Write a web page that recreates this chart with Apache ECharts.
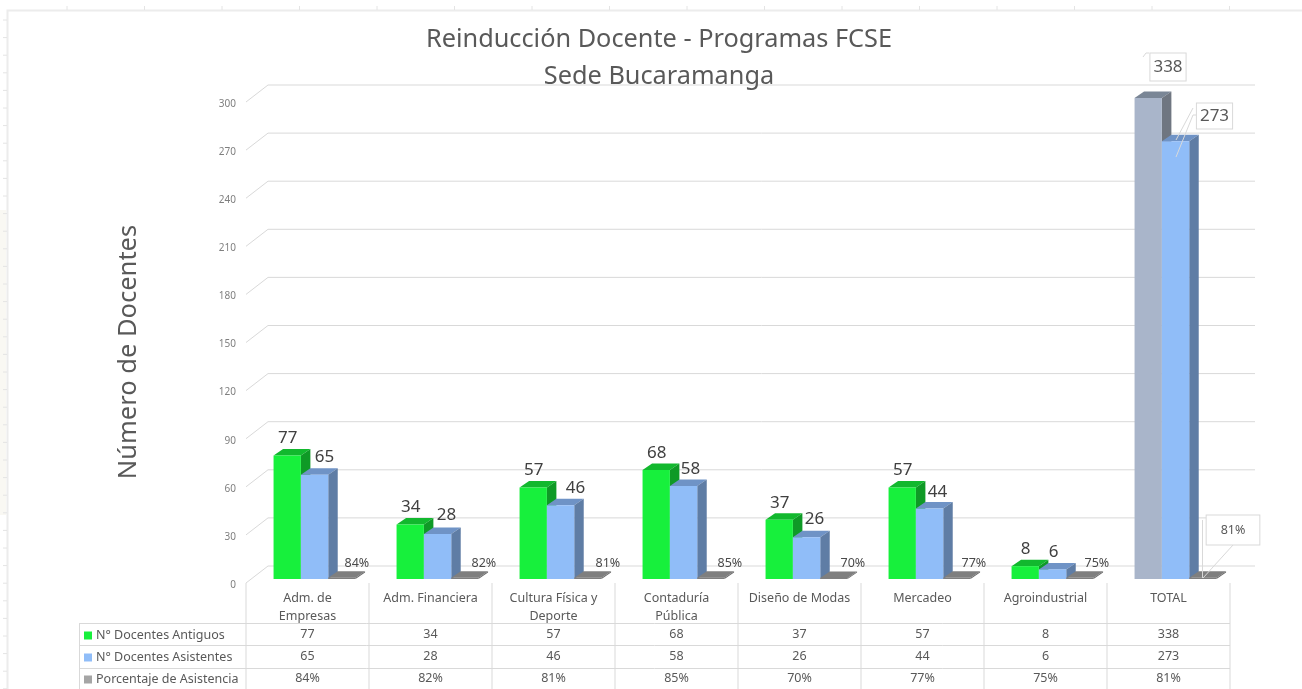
<!DOCTYPE html>
<html>
<head>
<meta charset="utf-8">
<title>Reinducción Docente</title>
<script src="https://cdn.jsdelivr.net/npm/echarts@6/dist/echarts.min.js"></script>
<style>
    html, body { margin: 0; padding: 0; background: #fff; }
    #chart { width: 1302px; height: 689px; }
</style>
</head>
<body>
<div id="chart"></div>
<script>
    // datos de la tabla
    var categories = ['Adm. de\nEmpresas', 'Adm. Financiera', 'Cultura Física y\nDeporte', 'Contaduría\nPública', 'Diseño de Modas', 'Mercadeo', 'Agroindustrial', 'TOTAL'];
    var antiguos = [77, 34, 57, 68, 37, 57, 8, 338];
    var asistentes = [65, 28, 46, 58, 26, 44, 6, 273];
    var porcentaje = [84, 82, 81, 85, 70, 77, 75, 81];
    var yTicks = [0, 30, 60, 90, 120, 150, 180, 210, 240, 270, 300];
    var seriesNames = ['N° Docentes Antiguos', 'N° Docentes Asistentes', 'Porcentaje de Asistencia'];

    // ajuste manual de las etiquetas (como quedaron movidas a mano en el original)
    var blueLabelDx = [10, 9, 15, 7, 8, 8, 1];
    var blueLabelDy = [-18, -19, -17, -17, -18, -16, -17];
    var pctLabelDx = [15, 19, 20, 19, 19, 17, 17];

    var FONT = '"Noto Sans", sans-serif';
    var AXIS_MAX = 300;
    var LAST = categories.length - 1;

    var GREEN = { front: '#17F03C', top: '#12B82E', side: '#0F9A26' };
    var BLUE = { front: '#90BDF8', top: '#6F93C6', side: '#5F7DA5' };
    var SLATE = { front: '#A9B5CA', top: '#7A8696', side: '#6F7681' };
    var GREY = { front: '#7F7F7F', top: '#7F7F7F', side: '#6B6B6B' };

    function poly(points, fill) {
        return { type: 'polygon', shape: { points: points }, style: { fill: fill } };
    }
    function line(x1, y1, x2, y2, color) {
        return { type: 'line', shape: { x1: x1, y1: y1, x2: x2, y2: y2 }, style: { stroke: color || '#D9D9D9', lineWidth: 1 } };
    }
    function label(text, x, y, size, extra) {
        var style = { text: text, x: x, y: y, fill: '#404040', font: size + 'px ' + FONT, align: 'center', verticalAlign: 'middle' };
        for (var k in extra) style[k] = extra[k];
        return { type: 'text', style: style };
    }

    // barra 3D: frente, tapa y lado
    function bar3d(slot, colorsOf, labelOf) {
        return function (params, api) {
            var i = api.value(0);
            var value = api.value(1);
            var base = api.coord([i, 0]);
            var top = api.coord([i, Math.min(value, AXIS_MAX)]);
            var band = api.size([1, 0])[0];
            var w = band / 4.5;
            var x0 = base[0] - band / 2 + band * 0.22 + slot * w + 0.5;
            var x1 = x0 + w;
            var yb = base[1] - 6;
            var yt = top[1] - 6;
            var dx = 9.5, dy = 6.5;
            var c = colorsOf(i);
            var children = [
                poly([[x0, yt], [x0 + dx, yt - dy], [x1 + dx, yt - dy], [x1, yt]], c.top),
                poly([[x1, yt], [x1 + dx, yt - dy], [x1 + dx, yb - dy], [x1, yb]], c.side),
                { type: 'rect', shape: { x: x0, y: yt, width: w, height: yb - yt }, style: { fill: c.front } }
            ];
            return { type: 'group', children: children.concat(labelOf(i, value, x0, x1, yt)) };
        };
    }

    function boxStyle(padding) {
        return { backgroundColor: '#fff', borderColor: '#D9D9D9', borderWidth: 1, padding: padding, fill: '#595959' };
    }

    // pared del fondo con las lineas de la escala
    function renderWall(params, api) {
        var p = api.coord([0, api.value(0)]);
        var left = p[0] - api.size([1, 0])[0] / 2;
        var right = left + api.size([1, 0])[0] * categories.length;
        return {
            type: 'group',
            children: [line(left, p[1] - 2, left + 22, p[1] - 19), line(left + 22, p[1] - 19, right + 25, p[1] - 19)]
        };
    }

    // tabla de datos debajo del grafico
    function renderTable(params, api) {
        var i = api.value(0);
        var band = api.size([1, 0])[0];
        var cx = api.coord([i, 0])[0];
        var left = cx - band / 2;
        var children = [
            line(left, 583, left, 689),
            label(String(antiguos[i]), cx, 634.5, 12.5, { fill: '#595959' }),
            label(String(asistentes[i]), cx, 656, 12.5, { fill: '#595959' }),
            label(porcentaje[i] + '%', cx, 678.5, 12.5, { fill: '#595959' })
        ];
        if (i === LAST) {
            children.push(line(left + band, 583, left + band, 689));
        }
        if (i === 0) {
            var right = left + band * categories.length;
            children.push(line(79, 623.5, right, 623.5), line(79, 645.5, right, 645.5), line(79, 668.5, right, 668.5), line(79.5, 623, 79.5, 689));
        }
        return { type: 'group', children: children };
    }

    function toData(values) {
        return values.map(function (v, i) { return [i, v]; });
    }

    // marco y marcas de la hoja de calculo
    var sheet = [
        { type: 'rect', shape: { x: 0, y: 210, width: 6, height: 305 }, style: { fill: '#F9F8F3' } },
        { type: 'polyline', shape: { points: [[7.5, 689], [7.5, 10.5], [1302, 10.5]] }, style: { stroke: '#ECECEC', lineWidth: 2, fill: 'none' } }
    ];
    for (var tx = 67; tx < 1302; tx += 77.5) {
        sheet.push({ type: 'line', shape: { x1: tx, y1: 6, x2: tx, y2: 10 }, style: { stroke: '#E4E4E4' } });
    }
    for (var ty = 20; ty < 689; ty += 17.6) {
        sheet.push({ type: 'line', shape: { x1: 3, y1: ty, x2: 7, y2: ty }, style: { stroke: '#E4E4E4' } });
    }

    var myChart = echarts.init(document.getElementById('chart'), null, { renderer: 'canvas' });
    myChart.setOption({
        animation: false,
        backgroundColor: '#fff',
        textStyle: { fontFamily: FONT },
        title: {
            text: 'Reinducción Docente - Programas FCSE\nSede Bucaramanga',
            left: 654,
            top: 16,
            textAlign: 'center',
            textStyle: { fontFamily: FONT, fontSize: 25.3, fontWeight: 'normal', color: '#595959', lineHeight: 37 }
        },
        legend: {
            orient: 'vertical',
            left: 84,
            top: 627,
            itemWidth: 8,
            itemHeight: 8,
            itemGap: 5,
            selectedMode: false,
            padding: 0,
            textStyle: { fontFamily: FONT, fontSize: 12.5, color: '#595959', padding: [0, 0, 0, -1], lineHeight: 17 },
            data: [
                { name: seriesNames[0], icon: 'rect', itemStyle: { color: GREEN.front } },
                { name: seriesNames[1], icon: 'rect', itemStyle: { color: BLUE.front } },
                { name: seriesNames[2], icon: 'rect', itemStyle: { color: '#A5A5A5' } }
            ]
        },
        grid: { left: 246, top: 104, width: 984, height: 481 },
        xAxis: {
            type: 'category',
            data: categories,
            axisLine: { show: false },
            axisTick: { show: false },
            axisLabel: { interval: 0, margin: 4, fontFamily: FONT, fontSize: 12.5, lineHeight: 18.5, color: '#595959' }
        },
        yAxis: {
            type: 'value',
            min: 0,
            max: AXIS_MAX,
            interval: 30,
            name: 'Número de Docentes',
            nameLocation: 'middle',
            nameRotate: 90,
            nameGap: 104,
            nameTextStyle: { fontFamily: FONT, fontSize: 25.5, color: '#595959', padding: [0, 15, 0, 0] },
            axisLine: { show: false },
            axisTick: { show: false },
            splitLine: { show: false },
            axisLabel: { margin: 10, fontFamily: FONT, fontSize: 10, color: '#7F7F7F' }
        },
        graphic: sheet,
        series: [
            {
                name: 'escala',
                type: 'custom',
                silent: true,
                data: yTicks.map(function (v) { return [v]; }),
                encode: { y: 0 },
                renderItem: renderWall
            },
            {
                name: seriesNames[0],
                type: 'custom',
                data: toData(antiguos),
                encode: { x: 0, y: 1 },
                renderItem: bar3d(0, function (i) { return i === LAST ? SLATE : GREEN; }, function (i, value, x0, x1, yt) {
                    if (i === LAST) {
                        return [
                            line(1143, 57, 1146, 53),
                            line(1146, 53, 1149, 53),
                            label(String(value), 1168, 67, 17, boxStyle([5, 3, 5, 3]))
                        ];
                    }
                    return [label(String(value), (x0 + x1) / 2 + 0.5, yt - 17, 17)];
                })
            },
            {
                name: seriesNames[1],
                type: 'custom',
                data: toData(asistentes),
                encode: { x: 0, y: 1 },
                renderItem: bar3d(1, function () { return BLUE; }, function (i, value, x0, x1, yt) {
                    if (i === LAST) {
                        return [
                            line(1193, 108, 1176, 140),
                            line(1193, 115, 1176, 157),
                            line(1193, 115, 1196, 115),
                            label(String(value), 1214.5, 116, 17, boxStyle([4, 3, 4, 3]))
                        ];
                    }
                    return [label(String(value), (x0 + x1) / 2 + blueLabelDx[i], yt + blueLabelDy[i], 17)];
                })
            },
            {
                name: seriesNames[2],
                type: 'custom',
                data: toData(porcentaje.map(function (p) { return p / 100; })),
                encode: { x: 0, y: 1 },
                renderItem: bar3d(2, function () { return GREY; }, function (i, value, x0, x1, yt) {
                    var text = Math.round(value * 100) + '%';
                    if (i === LAST) {
                        return [
                            line(1202.5, 520, 1202.5, 578),
                            line(1233, 545, 1203, 578),
                            label(text, 1233, 530, 12.5, boxStyle([8, 14, 8, 14]))
                        ];
                    }
                    return [label(text, (x0 + x1) / 2 + pctLabelDx[i], yt - 14.5, 12.5, { fill: '#4A4A4A' })];
                })
            },
            {
                name: 'tabla',
                type: 'custom',
                silent: true,
                data: toData(antiguos),
                encode: { x: 0 },
                renderItem: renderTable
            }
        ]
    });
</script>
</body>
</html>
